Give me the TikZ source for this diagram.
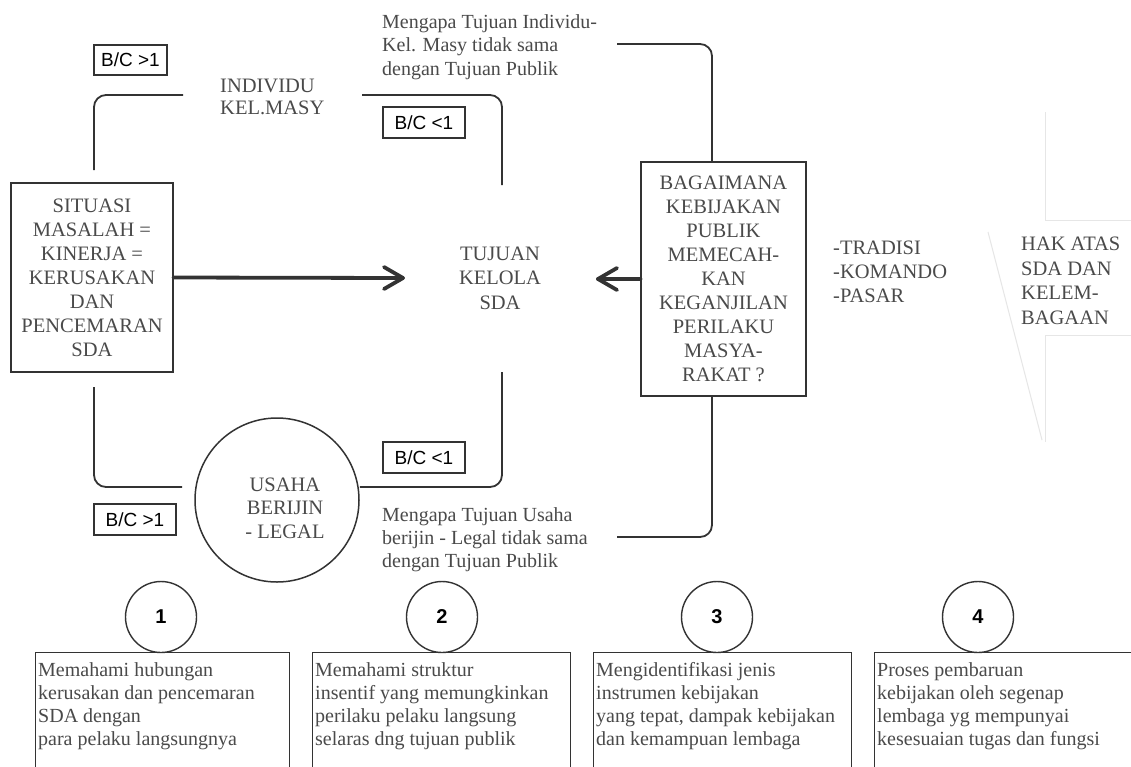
\documentclass[tikz,border=0pt]{standalone}
\usepackage{fontspec}
\setmainfont{Liberation Serif}
\newfontfamily\arialf{Liberation Sans}
\usetikzlibrary{arrows.meta}
\definecolor{ink}{HTML}{333333}
\definecolor{txtc}{HTML}{4A4A4A}
\definecolor{faint}{HTML}{E6E6E6}
\begin{document}
\begin{tikzpicture}[x=1pt,y=-1pt,
  serif/.style={inner sep=0pt, text=txtc, font=\fontsize{20.5}{24}\selectfont},
  bctag/.style={draw=ink, line width=1.1pt, inner sep=0pt, minimum width=82pt, minimum height=31pt, font=\arialf\fontsize{19}{22}\selectfont},
  mainbox/.style={draw=ink, line width=1.1pt, inner sep=0pt, align=center, text=txtc, font=\fontsize{20.5}{24}\selectfont},
  conn/.style={draw=ink, line width=1.8pt, rounded corners=12pt},
  bigarrow/.style={draw=ink, line width=3.8pt, line join=round, line cap=round},
  numcirc/.style={draw=ink, circle, line width=1.4pt, minimum size=71pt, inner sep=0pt, font=\arialf\bfseries\fontsize{20}{20}\selectfont},
  infobox/.style={draw=ink, line width=1pt, minimum height=140pt, anchor=north west, inner sep=0pt},
  infotext/.style={anchor=north west, inner sep=0pt, align=left, text=txtc, font=\fontsize{20}{23}\selectfont},
  faintline/.style={draw=faint, line width=1pt}
]
\useasboundingbox (0,0) rectangle (1131,766);
\fill[white] (0,0) rectangle (1131,766);
\clip (0,0) rectangle (1131,766);

% faint background shape on the right
\draw[faintline] (1131,220) -- (1045,220) -- (1045,112);
\draw[faintline] (988,232) -- (1042,440);
\draw[faintline] (1131,335) -- (1045,335) -- (1045,442);

% tags
\node[bctag, minimum width=73pt, minimum height=30pt] (bc1) at (130.5,60) {B/C >1};
\node[bctag] (bc2) at (424,122.5) {B/C <1};
\node[bctag] (bc3) at (424,457.5) {B/C <1};
\node[bctag] (bc4) at (135,519.5) {B/C >1};

% texts
\node[serif, align=left, anchor=west, font=\fontsize{20.5}{22}\selectfont] (indiv) at (220,97) {INDIVIDU\\KEL.MASY};
\node[serif, align=left, anchor=west, font=\fontsize{20}{23.5}\selectfont] (mq1) at (382,47) {Mengapa Tujuan Individu-\\Kel. Masy tidak sama\\dengan Tujuan Publik};
\node[serif, align=left, anchor=west, font=\fontsize{20}{23}\selectfont] (mq2) at (382,540) {Mengapa Tujuan Usaha\\berijin - Legal tidak sama\\dengan Tujuan Publik};
\node[serif, align=center, font=\fontsize{20.5}{24.5}\selectfont] (tuj) at (500,278) {TUJUAN\\KELOLA\\SDA};
\node[serif, align=left, anchor=west] (trad) at (833,272) {-TRADISI\\-KOMANDO\\-PASAR};
\node[serif, align=left, anchor=west, font=\fontsize{20.5}{24.5}\selectfont] (hak) at (1021,281) {HAK ATAS\\SDA DAN\\KELEM-\\BAGAAN};

% main boxes
\node[mainbox, minimum width=162pt, minimum height=189pt] (sit) at (92,277.5) {SITUASI\\MASALAH =\\KINERJA =\\KERUSAKAN\\DAN\\PENCEMARAN\\SDA};
\node[mainbox, minimum width=165pt, minimum height=234pt] (bag) at (723.5,279) {BAGAIMANA\\KEBIJAKAN\\PUBLIK\\MEMECAH-\\KAN\\KEGANJILAN\\PERILAKU\\MASYA-\\RAKAT ?};

% usaha circle
\node[draw=ink, circle, line width=1.5pt, minimum size=164pt, inner sep=0pt] (usaha) at (277,500) {};
\node[serif, align=center, font=\fontsize{20.5}{23.5}\selectfont] (usahat) at (285,508) {USAHA\\BERIJIN\\- LEGAL};

% connector coordinates
\coordinate (tlA) at (183,95);
\coordinate (tlB) at (94,170);
\coordinate (trA) at (362,95);
\coordinate (trB) at (502,185);
\coordinate (blA) at (94,387);
\coordinate (blB) at (182,487);
\coordinate (brA) at (502,372);
\coordinate (rtA) at (617,44);
\coordinate (rtB) at (712,162);
\coordinate (rbA) at (712,396);
\coordinate (rbB) at (617,537);
\coordinate (tipL) at (403,278);
\coordinate (tipR) at (598,279);

\draw[conn] (tlA) -| (tlB);
\draw[conn] (trA) -| (trB);
\draw[conn] (blA) |- (blB);
\draw[conn] (brA) |- (usaha.east |- 0,487);
\draw[conn] (rtA) -| (rtB);
\draw[conn] (rbA) |- (rbB);

% thick arrows with open chevron heads
\draw[bigarrow] (sit.east) -- (tipL);
\draw[bigarrow] (tipL) ++(-19,-11) -- (tipL) -- ++(-19,11);
\draw[bigarrow] (bag.west) -- (tipR);
\draw[bigarrow] (tipR) ++(19,-11) -- (tipR) -- ++(19,11);

% bottom steps
\node[numcirc] (n1) at (161,617) {1};
\node[numcirc] (n2) at (442,617) {2};
\node[numcirc] (n3) at (717,617) {3};
\node[numcirc] (n4) at (978,617) {4};

\node[infobox, minimum width=254pt] (box1) at (35,652) {};
\node[infobox, minimum width=258pt] (box2) at (312,652) {};
\node[infobox, minimum width=258pt] (box3) at (593,652) {};
\node[infobox, minimum width=270pt] (box4) at (874,652) {};

\node[infotext] (t1) at (38,662) {Memahami hubungan\\kerusakan dan pencemaran\\SDA dengan\\para pelaku langsungnya};
\node[infotext] (t2) at (315,662) {Memahami struktur\\insentif yang memungkinkan\\perilaku pelaku langsung\\selaras dng tujuan publik};
\node[infotext] (t3) at (596,662) {Mengidentifikasi jenis\\instrumen kebijakan\\yang tepat, dampak kebijakan\\dan kemampuan lembaga};
\node[infotext] (t4) at (877,662) {Proses pembaruan\\kebijakan oleh segenap\\lembaga yg mempunyai\\kesesuaian tugas dan fungsi};
\end{tikzpicture}
\end{document}
